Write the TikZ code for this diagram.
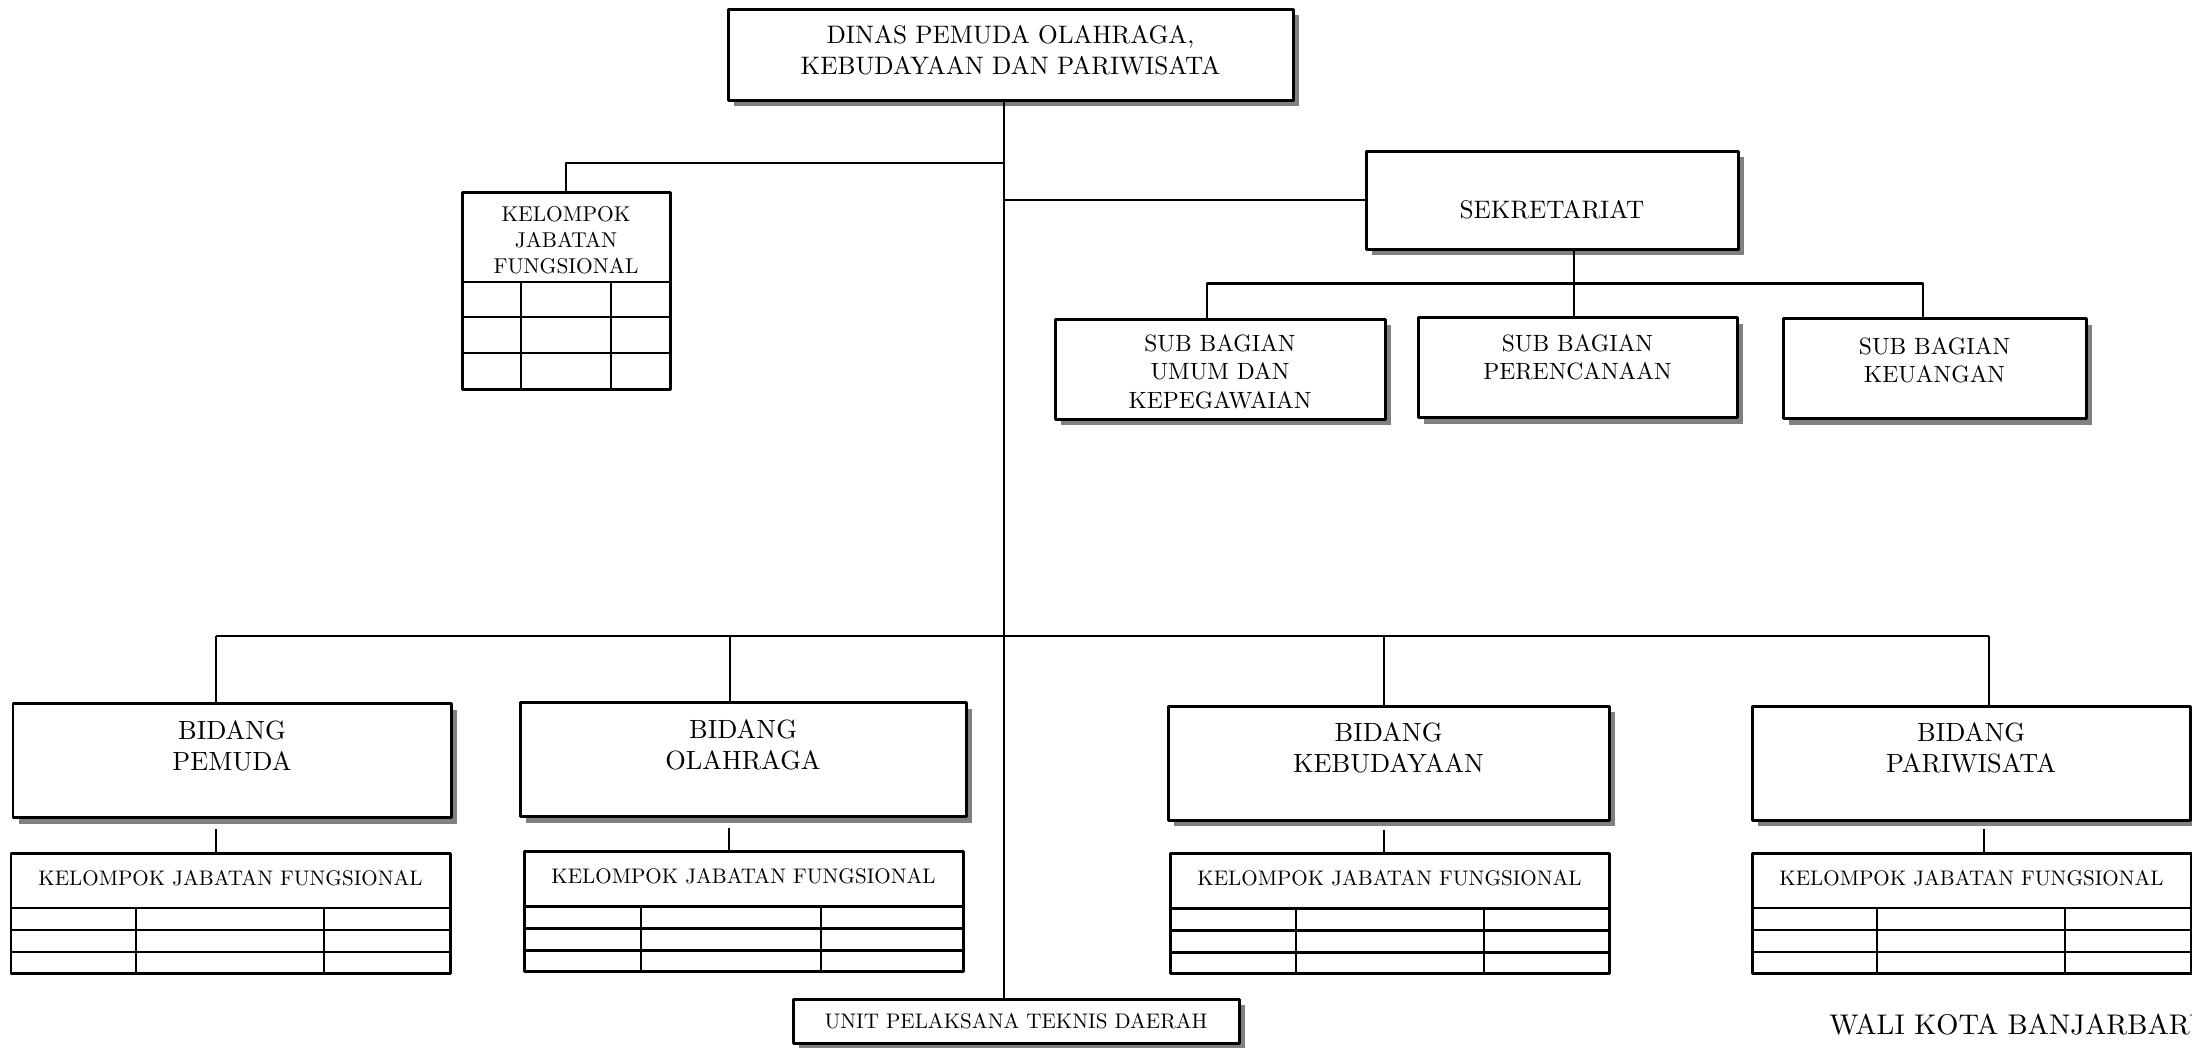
\documentclass[tikz,border=0pt]{standalone}
\usepackage{fontspec}
\setmainfont{lmroman10-regular.otf}
\usetikzlibrary{shadows,calc}
\begin{document}
\begin{tikzpicture}[x=1cm,y=-1cm,line join=round,line width=0.7pt]
\tikzset{box/.style={draw,line width=0.85pt,fill=white,inner sep=0pt,
    drop shadow={shadow xshift=0.6mm,shadow yshift=-0.6mm,fill=black!50,opacity=1}},
  tbl/.style={draw,line width=0.85pt,fill=white,inner sep=0pt},
  lbl/.style={align=center,inner sep=0pt}}
\useasboundingbox (0,0) rectangle (21.92,10.47);
\clip (0,0) rectangle (21.92,10.47);
% kepala dinas
\node[box,minimum width=5.65cm,minimum height=0.91cm] (dinas) at (10.105,0.545) {};
\node[lbl,font=\fontsize{7.2}{8.8}\selectfont] (tdinas) at (10.105,0.505) {DINAS PEMUDA OLAHRAGA,\\KEBUDAYAAN DAN PARIWISATA};
\node[box,minimum width=4.46cm,minimum height=0.44cm,font=\fontsize{6}{7}\selectfont] (uptd) at (10.16,10.21) {UNIT PELAKSANA TEKNIS DAERAH};
\coordinate (jt) at (10.04,1.00);
\draw (jt) -- (jt |- uptd.north);
% kelompok jabatan fungsional
\node[tbl,minimum width=2.08cm,minimum height=1.97cm] (kjf) at (5.66,2.905) {};
\node[lbl,font=\fontsize{6.1}{7.4}\selectfont] (tkjf) at (5.66,2.40) {KELOMPOK\\JABATAN\\FUNGSIONAL};
\foreach \r in {2.82,3.17,3.53}
  \draw (kjf.west |- 0,\r) -- (kjf.east |- 0,\r);
\foreach \c in {5.21,6.11}
  \draw (\c,2.82) -- (\c,0 |- kjf.south);
\coordinate (j1) at (10.04,1.63);
\draw (kjf.north) |- (j1);
% sekretariat
\node[box,minimum width=3.72cm,minimum height=0.98cm] (sek) at (15.52,2.00) {};
\node[lbl,font=\fontsize{7.2}{8.3}\selectfont] (tsek) at (15.52,2.10) {SEKRETARIAT};
\draw (jt |- sek.west) -- (sek.west);
\foreach \n/\x/\y/\w/\ty/\t in {sb1/12.20/3.69/3.30/3.715/{SUB BAGIAN\\UMUM DAN\\KEPEGAWAIAN},
    sb2/15.775/3.675/3.19/3.575/{SUB BAGIAN\\PERENCANAAN},
    sb3/19.345/3.685/3.03/3.605/{SUB BAGIAN\\KEUANGAN}}{
  \node[box,minimum width=\w cm,minimum height=1.0cm] (\n) at (\x,\y) {};
  \node[lbl,font=\fontsize{6.7}{8.1}\selectfont] (t\n) at (\x,\ty) {\t};
}
\draw ([xshift=-0.35mm]sek.south -| sb2.north) -- ([xshift=-0.35mm]sb2.north);
\draw ([xshift=-1.3mm]sb1.north) -- ++(0,-0.34) -| ([xshift=-1.15mm]sb3.north);
% bidang
\coordinate (bl) at (2.16,6.36);
\coordinate (br) at (19.89,6.36);
\draw (bl) -- (br);
\foreach \n/\x/\y/\w/\s/\t in {bp/2.32/7.605/4.38/2.16/PEMUDA,
    bo/7.43/7.595/4.46/7.30/OLAHRAGA,
    bk/13.885/7.63/4.41/13.84/KEBUDAYAAN,
    bw/19.71/7.63/4.38/19.89/PARIWISATA}{
  \node[box,minimum width=\w cm,minimum height=1.14cm] (\n) at (\x,\y) {};
  \node[lbl,font=\fontsize{7.5}{8.9}\selectfont] (t\n) at (\x,\y-0.15) {BIDANG\\\t};
  \draw (\s,6.36) -- (\s,0 |- \n.north);
}
% tabel jabatan fungsional
\foreach \n/\x/\y/\s/\a/\b in {kp/2.305/9.13/2.16/1.36/3.24,
    ko/7.435/9.115/7.29/6.41/8.21,
    kk/13.895/9.135/13.84/12.96/14.84,
    kw/19.715/9.13/19.84/18.77/20.65}{
  \node[tbl,minimum width=4.39cm,minimum height=1.20cm] (\n) at (\x,\y) {};
  \node[lbl,font=\fontsize{6}{7}\selectfont] (t\n) at (\x,\y-0.35) {KELOMPOK JABATAN FUNGSIONAL};
  \foreach \r in {-0.05,0.17,0.39}
    \draw (\n.west |- 0,\y+\r) -- (\n.east |- 0,\y+\r);
  \foreach \c in {\a,\b}
    \draw (\c,\y-0.05) -- (\c,0 |- \n.south);
  \draw (\s,\y-0.84) -- (\s,0 |- \n.north);
}
\node[anchor=west,inner sep=0pt,font=\fontsize{8.1}{9.7}\selectfont] (wali) at (18.28,10.25) {WALI KOTA BANJARBARU};
\end{tikzpicture}
\end{document}
